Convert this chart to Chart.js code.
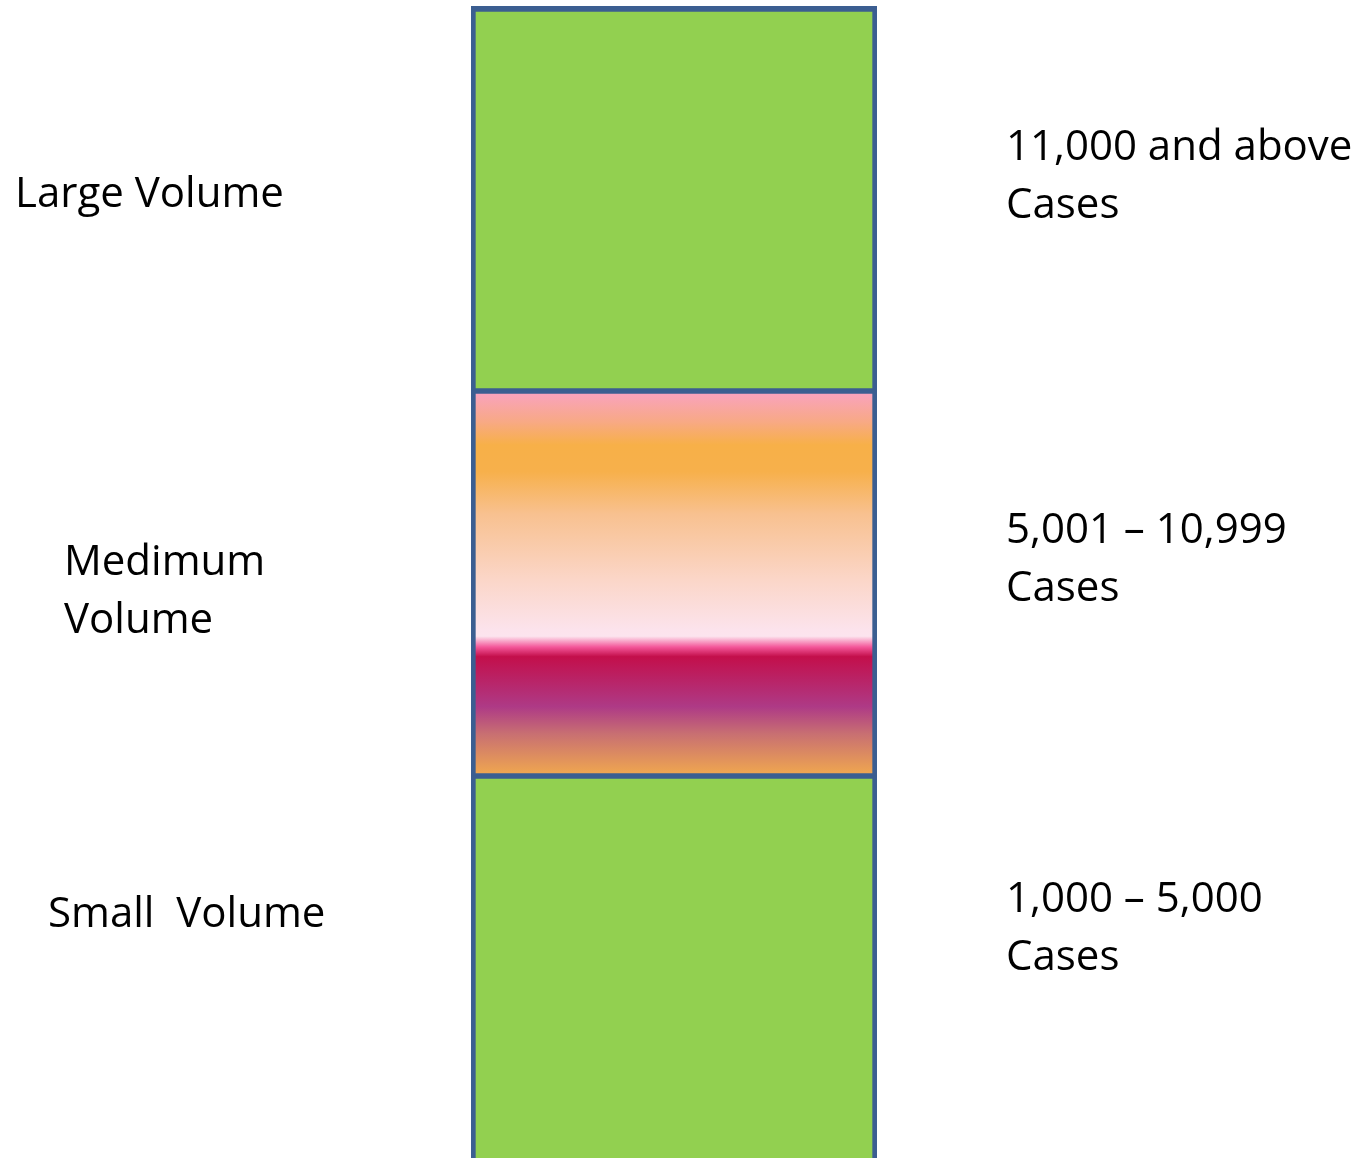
<!DOCTYPE html>
<html>
<head>
<meta charset="utf-8">
<title>Case Volume Tiers</title>
<script src="https://cdn.jsdelivr.net/npm/chart.js@4"></script>
<style>
  html, body { margin: 0; padding: 0; background: #ffffff; }
  #wrap { width: 1359px; height: 1158px; }
</style>
</head>
<body>
<div id="wrap"><canvas id="tiers" width="1359" height="1158"></canvas></div>
<script>
// Volume tiers, listed bottom to top as they stack in the column
const tierNames = ['Small  Volume', 'Medimum\nVolume', 'Large Volume'];
const tierRanges = ['1,000 \u2013 5,000\nCases', '5,001 \u2013 10,999\nCases', '11,000 and above\nCases'];
const tierBands = [1, 1, 1];           // each tier occupies one equal band
const categories = ['Volume'];

// Palette
const GREEN = '#92D050';
const EDGE = '#3B5E91';
const midStops = [
  [0.00, '#F9A2C2'], [0.08, '#F8A985'], [0.14, '#F7B048'], [0.21, '#F7B04B'],
  [0.32, '#F8C190'], [0.49, '#FBD6C8'], [0.62, '#FCE3EC'], [0.637, '#FCE4EE'],
  [0.665, '#F4579A'], [0.69, '#C30F4B'], [0.82, '#AE3A86'], [0.89, '#C86F72'],
  [1.00, '#F1A94E']
];

// Text placement for the side captions (baselines in canvas pixels)
const leftPlacement = [
  { x: 48, y: 927 },
  { x: 64, y: 575 },
  { x: 15, y: 207 }
];
const rightPlacement = [
  { x: 1006, y: 912 },
  { x: 1006, y: 543 },
  { x: 1006, y: 160 }
];
const LINE_GAP = 58;
const FONT = '42px "Open Sans"';

function bandGradient(ctx, idx) {
  const chart = ctx.chart;
  const y = chart.scales.y;
  if (!y || !chart.chartArea) return '#F7B04B';
  const lo = tierBands.slice(0, idx).reduce((a, b) => a + b, 0);
  const hi = lo + tierBands[idx];
  const top = y.getPixelForValue(hi);
  const bottom = y.getPixelForValue(lo);
  const g = chart.ctx.createLinearGradient(0, top, 0, bottom);
  midStops.forEach(([p, c]) => g.addColorStop(p, c));
  return g;
}

const sideCaptions = {
  id: 'sideCaptions',
  afterDraw(chart) {
    const c = chart.ctx;
    c.save();
    c.font = FONT;
    c.fillStyle = '#000000';
    c.textAlign = 'left';
    c.textBaseline = 'alphabetic';
    tierNames.forEach((t, i) => {
      t.split('\n').forEach((line, k) => {
        c.fillText(line, leftPlacement[i].x, leftPlacement[i].y + k * LINE_GAP);
      });
    });
    tierRanges.forEach((t, i) => {
      t.split('\n').forEach((line, k) => {
        c.fillText(line, rightPlacement[i].x, rightPlacement[i].y + k * LINE_GAP);
      });
    });
    c.restore();
  }
};

const edgeWidths = [
  { left: 5, right: 5, top: 3, bottom: 0 },
  { left: 5, right: 5, top: 3, bottom: 3 },
  { left: 5, right: 5, top: 6, bottom: 3 }
];

const datasets = tierBands.map((v, i) => ({
  label: tierNames[i].replace('\n', ' '),
  data: [v],
  backgroundColor: i === 1 ? (ctx) => bandGradient(ctx, i) : GREEN,
  borderColor: EDGE,
  borderWidth: edgeWidths[i],
  borderSkipped: false,
  barPercentage: 1,
  categoryPercentage: 1
}));

new Chart(document.getElementById('tiers'), {
  type: 'bar',
  data: { labels: categories, datasets },
  options: {
    responsive: false,
    animation: false,
    layout: { padding: { left: 471, right: 482, top: 6, bottom: 0 } },
    scales: {
      x: { stacked: true, display: false },
      y: { stacked: true, display: false, min: 0.0078, max: 3 }
    },
    plugins: { legend: { display: false }, tooltip: { enabled: false } }
  },
  plugins: [sideCaptions]
});
</script>
</body>
</html>
